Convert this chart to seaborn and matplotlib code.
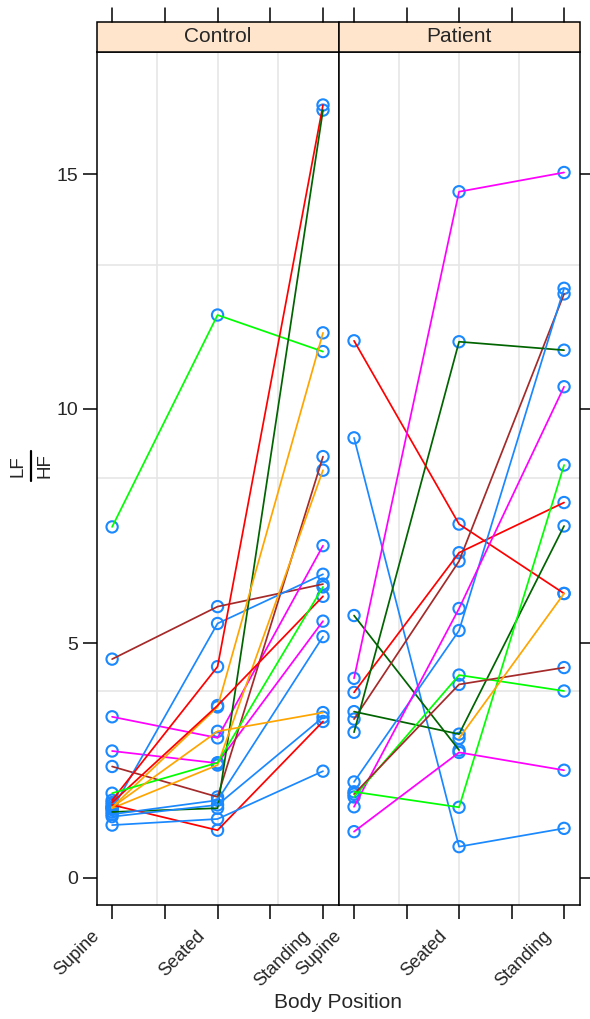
import numpy as np
import pandas as pd
import matplotlib
matplotlib.use("Agg")
import matplotlib.pyplot as plt
from matplotlib.patches import Rectangle
from matplotlib.lines import Line2D
from matplotlib.ticker import FixedLocator
from matplotlib.transforms import ScaledTranslation
import seaborn as sns

# ---- data -------------------------------------------------------------
positions = ["Supine", "Seated", "Standing"]
panels = ["Control", "Patient"]

control_supine = [7.48, 4.66, 3.43, 2.70, 2.37, 1.45, 1.65, 1.40, 1.50,
                  1.48, 1.60, 1.55, 1.80, 1.12, 1.35, 1.50, 1.30]
control_seated = [12.00, 5.78, 2.98, 2.44, 1.72, 5.42, 4.50, 1.48, 3.64,
                  2.40, 3.67, 1.01, 2.45, 1.25, 1.65, 3.12, 1.55]
control_standing = [11.22, 6.26, 7.08, 5.47, 8.98, 6.47, 16.48, 16.37, 11.62,
                    8.69, 6.00, 3.33, 6.20, 2.27, 5.14, 3.52, 3.42]
control_colors = ["#00ff00", "brown", "#ff00ff", "#ff00ff", "brown", "#1a88ff",
                  "#ff0000", "darkgreen", "orange", "orange", "#ff0000",
                  "#ff0000", "#00ff00", "#1a88ff", "#1a88ff", "orange", "#1a88ff"]

patient_supine = [11.45, 9.38, 5.59, 4.25, 3.95, 3.38, 3.10, 3.54, 2.04,
                  1.51, 1.72, 1.78, 1.83, np.nan, 0.98]
patient_seated = [7.54, 0.66, 2.72, 14.63, 6.93, 6.75, 11.43, 3.06, 5.27,
                  5.74, 4.32, 4.12, 1.50, 2.97, 2.67]
patient_standing = [6.06, 1.05, np.nan, 15.04, 8.00, 12.45, 11.25, 7.50, 12.57,
                    10.47, 3.98, 4.48, 8.80, 6.06, 2.29]
patient_colors = ["#ff0000", "#1a88ff", "darkgreen", "#ff00ff", "#ff0000",
                  "brown", "darkgreen", "darkgreen", "#1a88ff", "#ff00ff",
                  "#00ff00", "brown", "#00ff00", "orange", "#ff00ff"]

y_ticks = [0, 5, 10, 15]

# ---- long table ----------------------------------------------------------
rows = []
palette = {}
groups = {
    "Control": (control_supine, control_seated, control_standing, control_colors),
    "Patient": (patient_supine, patient_seated, patient_standing, patient_colors),
}
for grp, (sup, sea, sta, cols) in groups.items():
    for i, (a, b, c, col) in enumerate(zip(sup, sea, sta, cols)):
        sid = f"{grp[0]}{i + 1:02d}"
        palette[sid] = col
        for p, v in zip(range(len(positions)), (a, b, c)):
            rows.append({"group": grp, "subject": sid, "pos": p,
                         "position": positions[p], "LFHF": v})
df = pd.DataFrame(rows)

# ---- style ---------------------------------------------------------------
sns.set_style("white")
plt.rcParams["font.family"] = ["Liberation Sans", "DejaVu Sans"]

W, H = 590, 1019
fig = plt.figure(figsize=(W / 100, H / 100), dpi=100)

left_px, mid_px, right_px = 96.5, 338.5, 579.5
top_px, bottom_px = 52, 904.5
strip_px = 30
xlim = (-0.148, 2.147)
ylim = (-0.574, 17.61)
point_col = "#1a88ff"
grid_col = "#e6e6e6"

panel_h = (bottom_px - top_px) / H
strip_h = strip_px / (bottom_px - top_px)
tick_h = 14 / (bottom_px - top_px)
# category labels hang below-left of their tick marks
label_offset = ScaledTranslation(-21 / 100, -23 / 100, fig.dpi_scale_trans)

axes = []
for k, grp in enumerate(panels):
    x0 = (left_px if k == 0 else mid_px) / W
    w = (mid_px - left_px) / W if k == 0 else (right_px - mid_px) / W
    ax = fig.add_axes([x0, 1 - bottom_px / H, w, panel_h])
    axes.append(ax)
    d = df[df["group"] == grp]

    # reference grid at the quarter divisions of the panel
    gx = [xlim[0] + (xlim[1] - xlim[0]) * f for f in (0.25, 0.5, 0.75)]
    gy = [ylim[0] + (ylim[1] - ylim[0]) * f for f in (0.25, 0.5, 0.75)]
    ax.xaxis.set_minor_locator(FixedLocator(gx))
    ax.yaxis.set_minor_locator(FixedLocator(gy))
    ax.grid(False, which="major")
    ax.grid(True, which="minor", color=grid_col, lw=1.2, zorder=0)
    ax.set_axisbelow(True)

    sns.scatterplot(data=d.dropna(), x="pos", y="LFHF", marker="o", s=66,
                    facecolor="none", edgecolor=point_col, linewidth=1.5,
                    ax=ax, legend=False, zorder=2)
    sns.lineplot(data=d.dropna(), x="pos", y="LFHF", hue="subject",
                 palette={s: palette[s] for s in d["subject"].unique()},
                 estimator=None, sort=True, linewidth=1.25, legend=False,
                 ax=ax, zorder=3)

    ax.set_xlim(*xlim)
    ax.set_ylim(*ylim)
    ax.set_xlabel("")
    ax.set_ylabel("")
    for sp in ax.spines.values():
        sp.set_visible(True)
        sp.set_color("black")
        sp.set_linewidth(1.1)

    ax.set_xticks([0, 0.5, 1, 1.5, 2])
    ax.tick_params(axis="x", which="major", bottom=True, top=False,
                   labelbottom=False, direction="out", length=10, width=1.1,
                   color="black")
    ax.tick_params(which="minor", length=0)
    for p, name in enumerate(positions):
        ax.text(p, 0, name, rotation=45, ha="right", va="top",
                rotation_mode="anchor", fontsize=13,
                transform=ax.get_xaxis_transform() + label_offset)

    ax.set_yticks(y_ticks)
    if k == 0:
        ax.tick_params(axis="y", which="major", left=True, right=False,
                       labelleft=True, direction="out", length=10, width=1.1,
                       pad=3, labelsize=14, color="black")
    else:
        ax.tick_params(axis="y", which="major", left=False, right=True,
                       labelleft=False, labelright=False, direction="out",
                       length=10, width=1.1, color="black")

    # strip with the group name
    ax.add_patch(Rectangle((0, 1), 1, strip_h, transform=ax.transAxes,
                           facecolor="#ffe5cc", edgecolor="black", lw=1.1,
                           clip_on=False, zorder=5))
    ax.text(0.5, 1 + strip_h / 2, grp, transform=ax.transAxes, ha="center",
            va="center", fontsize=15, zorder=6)
    # unlabelled ticks above the strip
    for xv in [0, 0.5, 1, 1.5, 2]:
        ax.plot([xv, xv], [1 + strip_h, 1 + strip_h + tick_h],
                transform=ax.get_xaxis_transform(), color="black", lw=1.1,
                clip_on=False, zorder=6)

# y-axis title written as a stacked fraction LF / HF
fig.text(18 / W, 1 - 466 / H, "LF", rotation=90, ha="center", va="center",
         fontsize=13.5)
fig.text(45 / W, 1 - 466 / H, "HF", rotation=90, ha="center", va="center",
         fontsize=13.5)
fig.add_artist(Line2D([31 / W, 31 / W], [1 - 451 / H, 1 - 481 / H],
                      transform=fig.transFigure, color="black", lw=1.6))
fig.text(338 / W, 1 - 1003 / H, "Body Position", ha="center", va="center",
         fontsize=15)

fig.savefig("out.png", dpi=100, facecolor="white")
